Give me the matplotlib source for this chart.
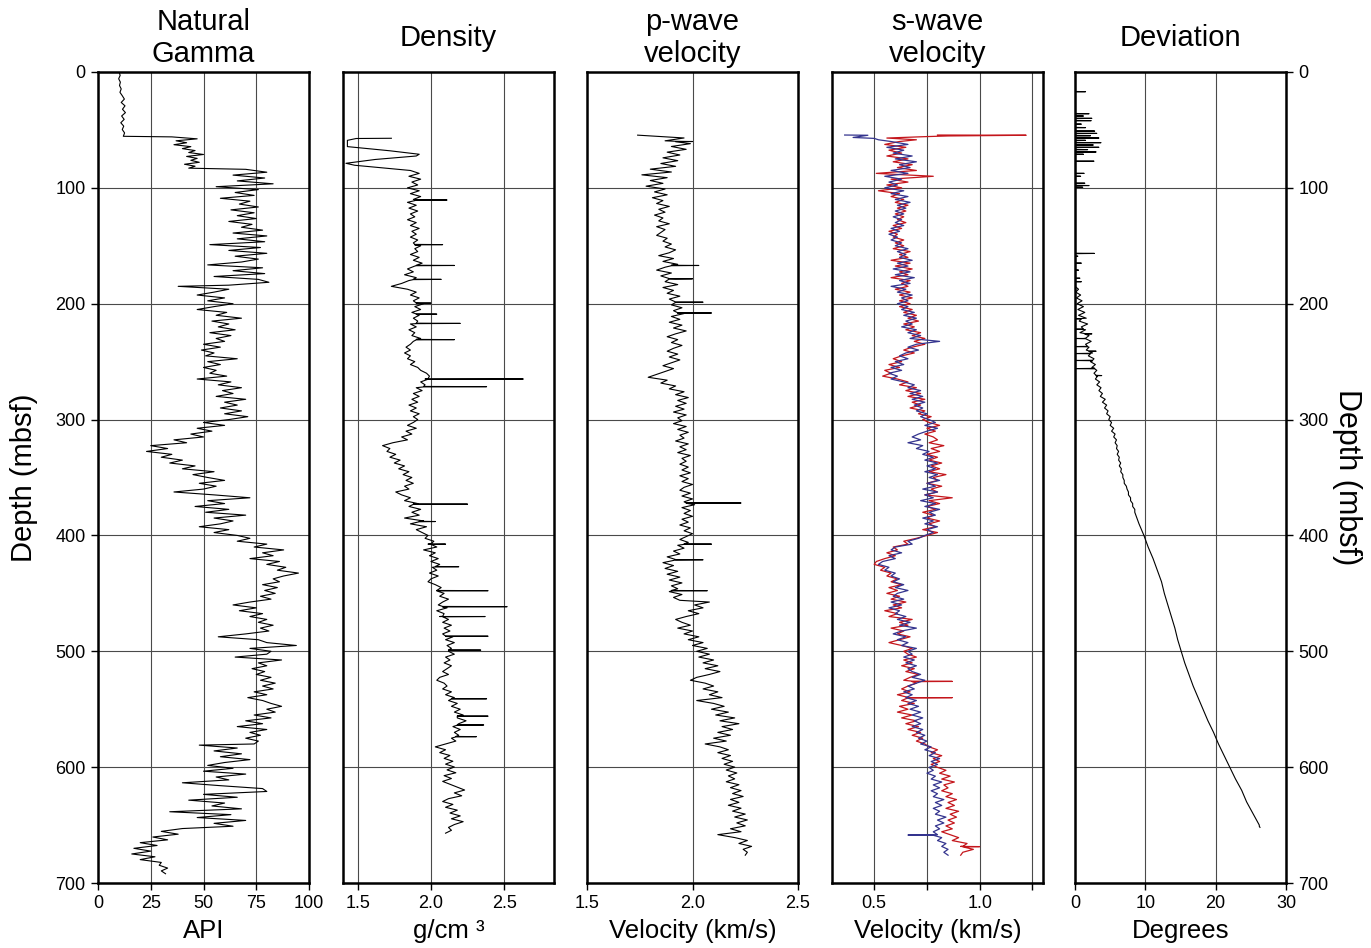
import numpy as np
import matplotlib
matplotlib.use("Agg")
import matplotlib.pyplot as plt

plt.rcParams['font.family'] = ['Liberation Sans', 'DejaVu Sans']

# ---------------- DATA ----------------
# Each log: list of segments (top depth, bottom depth, values sampled evenly)
# Natural gamma (API)
gamma_segments = [
    (0, 55.5, [10, 10.5, 9.8, 10.6, 10.2, 11, 10.4, 11.5, 12.5, 11, 12.8, 11.6, 13, 11.2, 12.4, 10.8, 12.2, 11.5, 12.6, 12]),
    (56, 83, [35, 47, 37, 42, 36, 44, 40, 46, 43, 50, 42, 47, 44, 48, 41, 46, 43]),
    (84, 184, [70, 80, 64, 79, 66, 83, 56, 76, 65, 74, 58, 72, 67, 76, 63, 74, 66, 75, 62, 73, 68, 78, 64, 80, 66, 79,
               53, 77, 62, 80, 65, 76, 68, 52, 78, 64, 79, 55, 76, 81, 62]),
    (185, 300, [38, 62, 55, 47, 60, 52, 64, 55, 47, 61, 56, 68, 54, 62, 57, 65, 53, 63, 56, 60, 50, 58, 49, 55, 51, 66,
                52, 58, 50, 56, 53, 61, 47, 63, 57, 68, 59, 64, 56, 70, 60, 66, 58, 68, 60, 71, 62]),
    (302.5, 350, [50, 60, 47, 54, 44, 50, 36, 42, 25, 33, 23, 35, 30, 40, 34, 46, 40, 55, 45, 52]),
    (352.5, 400, [60, 48, 56, 50, 36, 55, 72, 52, 60, 46, 62, 51, 70, 55, 64, 58, 48, 62, 55, 66]),
    (402.5, 457.5, [72, 66, 80, 74, 88, 78, 83, 72, 86, 80, 89, 85, 95, 88, 83, 86, 78, 85, 79, 84, 77, 82, 72]),
    (460, 500, [64, 75, 67, 78, 72, 80, 76, 83, 77, 81, 70, 57, 76, 80, 94, 72, 82]),
    (502.5, 580, [80, 65, 87, 76, 80, 73, 79, 75, 82, 77, 84, 78, 83, 74, 80, 71, 78, 82, 87, 80, 84, 74, 82, 70, 78,
                  66, 80, 72, 77, 70, 76, 74]),
    (581, 651, [48, 66, 55, 68, 58, 72, 60, 52, 64, 50, 70, 56, 62, 40, 58, 78, 80, 50, 66, 43, 60, 54, 68, 34, 63, 47,
                70, 55, 64]),
    (653, 692, [40, 30, 38, 26, 33, 20, 28, 17, 25, 16, 27, 20, 30, 29, 33, 30, 32]),
]
gamma_spikes = []

# Density (g/cm3)
density_top_depths = [57.2, 57.4, 59, 64.4, 68, 71, 72.5, 75.5, 78.8, 80.5, 84.6]
density_top_values = [1.73, 1.49, 1.43, 1.43, 1.72, 1.92, 1.90, 1.62, 1.42, 1.48, 1.83]
density_segments = [
    (85, 185, [1.86, 1.92, 1.85, 1.93, 1.87, 1.91, 1.84, 1.92, 1.86, 1.93, 1.88, 1.84, 1.90, 1.85, 1.91, 1.86, 1.89,
               1.84, 1.90, 1.86, 1.92, 1.87, 1.90, 1.86, 1.91, 1.88, 1.93, 1.89, 1.91, 1.86, 1.92, 1.88, 1.94, 1.89,
               1.84, 1.88, 1.82, 1.90, 1.85, 1.80, 1.73]),
    (187.5, 300, [1.84, 1.90, 1.86, 1.92, 1.88, 1.95, 1.89, 1.93, 1.87, 1.92, 1.88, 1.91, 1.86, 1.90, 1.85, 1.89, 1.87,
                  1.93, 1.88, 1.86, 1.83, 1.86, 1.82, 1.86, 1.84, 1.89, 1.86, 1.91, 1.93, 1.97, 1.99, 1.96, 1.93, 1.96,
                  1.90, 1.94, 1.88, 1.92, 1.87, 1.91, 1.85, 1.90, 1.86, 1.92, 1.88, 1.91]),
    (302.5, 400, [1.88, 1.84, 1.90, 1.83, 1.87, 1.80, 1.84, 1.74, 1.67, 1.72, 1.70, 1.76, 1.72, 1.79, 1.75, 1.82, 1.78,
                  1.85, 1.81, 1.87, 1.83, 1.88, 1.82, 1.85, 1.76, 1.80, 1.86, 1.82, 1.91, 1.85, 1.93, 1.87, 1.92, 1.82,
                  1.95, 1.86, 1.97, 1.90, 1.94, 1.98]),
    (402.5, 450, [1.96, 2.02, 1.98, 2.04, 1.95, 2.03, 1.99, 2.05, 2.00, 2.06, 2.01, 2.04, 1.99, 2.05, 2.00, 1.98, 2.03,
                  2.07, 2.04, 2.09]),
    (452.5, 540, [2.06, 2.12, 2.08, 2.05, 2.11, 2.04, 2.09, 2.06, 2.12, 2.08, 2.14, 2.09, 2.13, 2.08, 2.15, 2.10, 2.16,
                  2.11, 2.14, 2.12, 2.16, 2.10, 2.13, 2.09, 2.14, 2.11, 2.08, 2.12, 2.06, 2.04, 2.09, 2.11, 2.08, 2.14,
                  2.10, 2.16]),
    (542.5, 580, [2.12, 2.18, 2.14, 2.20, 2.16, 2.22, 2.18, 2.24, 2.19, 2.15, 2.20, 2.16, 2.19, 2.14, 2.17, 2.10]),
    (582.5, 657, [2.03, 2.10, 2.06, 2.13, 2.09, 2.15, 2.10, 2.16, 2.11, 2.17, 2.09, 2.14, 2.08, 2.13, 2.18, 2.23, 2.16,
                  2.21, 2.12, 2.08, 2.15, 2.10, 2.18, 2.13, 2.20, 2.14, 2.22, 2.16, 2.12, 2.14, 2.10]),
]
# spikes: (depth, base value, peak value)
density_spikes = [(110.5, 1.90, 2.11), (149, 1.89, 2.08), (167, 1.90, 2.16), (179, 1.88, 2.07), (199.5, 1.90, 2.00),
                  (209, 1.90, 2.04), (217, 1.90, 2.20), (231, 1.90, 2.16), (265, 1.98, 2.63), (271.6, 1.95, 2.38),
                  (373, 1.88, 2.25), (388, 1.92, 2.03), (407.5, 2.00, 2.10), (427, 2.03, 2.19), (447.7, 2.04, 2.39),
                  (461.5, 2.08, 2.52), (470, 2.08, 2.37), (487, 2.10, 2.39), (499, 2.12, 2.34), (541, 2.14, 2.38),
                  (556, 2.18, 2.39), (563.6, 2.18, 2.36), (573.7, 2.17, 2.31)]

# p-wave velocity (km/s)
pwave_segments = [
    (54.5, 101, [1.74, 1.96, 1.87, 1.99, 1.90, 1.97, 1.88, 1.94, 1.86, 1.93, 1.85, 1.92, 1.80, 1.90, 1.76, 1.88, 1.80,
                 1.86, 1.78, 1.87]),
    (103.5, 198.5, [1.82, 1.88, 1.81, 1.86, 1.83, 1.89, 1.84, 1.87, 1.82, 1.86, 1.84, 1.89, 1.83, 1.87, 1.85, 1.83,
                    1.88, 1.86, 1.90, 1.87, 1.92, 1.89, 1.84, 1.91, 1.86, 1.93, 1.87, 1.83, 1.90, 1.85, 1.92, 1.87,
                    1.93, 1.86, 1.91, 1.88, 1.94, 1.89, 1.92]),
    (201, 298.5, [1.90, 1.95, 1.91, 1.96, 1.90, 1.94, 1.89, 1.95, 1.91, 1.97, 1.92, 1.88, 1.93, 1.90, 1.95, 1.91, 1.88,
                  1.93, 1.89, 1.94, 1.90, 1.86, 1.91, 1.87, 1.83, 1.79, 1.88, 1.85, 1.92, 1.89, 1.96, 1.92, 1.98, 1.93,
                  1.97, 1.92, 1.96, 1.91, 1.97, 1.93]),
    (301, 398.5, [1.95, 1.91, 1.97, 1.93, 1.98, 1.94, 1.96, 1.92, 1.98, 1.94, 1.97, 1.93, 1.99, 1.95, 1.97, 1.94, 1.98,
                  1.95, 1.99, 1.94, 1.98, 1.95, 2.00, 1.96, 1.94, 1.99, 1.95, 2.00, 1.96, 2.01, 1.95, 1.99, 1.96, 2.00,
                  1.95, 1.98, 1.94, 1.99, 1.96, 2.00]),
    (401, 456, [1.97, 1.94, 1.98, 1.93, 1.96, 1.91, 1.94, 1.88, 1.92, 1.86, 1.91, 1.87, 1.93, 1.88, 1.94, 1.89, 1.95,
                1.90, 1.93, 1.89, 1.95, 1.91, 1.94]),
    (457.5, 500, [2.08, 2.01, 2.05, 1.98, 2.03, 1.97, 1.92, 1.95, 1.99, 1.93, 2.00, 1.96, 2.03, 1.98, 2.05, 2.00, 2.07,
                  2.02]),
    (502.5, 540, [2.08, 2.03, 2.10, 2.05, 2.12, 2.06, 2.13, 2.08, 2.02, 1.99, 2.06, 2.10, 2.05, 2.12, 2.08, 2.14]),
    (542.5, 600, [2.02, 2.10, 2.15, 2.09, 2.17, 2.11, 2.20, 2.13, 2.22, 2.14, 2.19, 2.12, 2.18, 2.10, 2.16, 2.06, 2.13,
                  2.17, 2.12, 2.18, 2.14, 2.19, 2.15, 2.20]),
    (602.5, 676, [2.16, 2.21, 2.17, 2.20, 2.16, 2.22, 2.18, 2.23, 2.19, 2.24, 2.18, 2.22, 2.17, 2.23, 2.19, 2.25, 2.20,
                  2.26, 2.21, 2.25, 2.18, 2.23, 2.12, 2.20, 2.26, 2.22, 2.28, 2.24, 2.26, 2.25]),
]
pwave_spikes = [(60, 1.92, 2.00), (167, 1.90, 2.03), (178.5, 1.89, 2.00), (198.7, 1.92, 2.05), (208, 1.93, 2.09),
                (372, 1.97, 2.23), (407.5, 1.96, 2.09), (421, 1.92, 2.05), (447.7, 1.90, 2.07)]

# s-wave velocity (km/s), two receivers
swave_blue_top_depths = [54.4, 54.6, 56.5, 57.3, 58.5]
swave_blue_top_values = [0.36, 0.47, 0.40, 0.50, 0.52]
swave_blue_segments = [
    (60, 200, [0.58, 0.66, 0.56, 0.64, 0.59, 0.68, 0.60, 0.70, 0.62, 0.67, 0.58, 0.66, 0.55, 0.63, 0.57, 0.61, 0.55,
               0.64, 0.58, 0.66, 0.60, 0.67, 0.61, 0.65, 0.60, 0.64, 0.59, 0.63, 0.60, 0.64, 0.58, 0.62, 0.57, 0.61,
               0.58, 0.63, 0.60, 0.66, 0.61, 0.65, 0.62, 0.68, 0.61, 0.66, 0.59, 0.67, 0.60, 0.69, 0.62, 0.67, 0.58,
               0.65, 0.61, 0.68, 0.63, 0.66, 0.61]),
    (202.5, 300, [0.66, 0.63, 0.69, 0.64, 0.70, 0.65, 0.68, 0.63, 0.70, 0.66, 0.72, 0.67, 0.81, 0.70, 0.66, 0.71, 0.65,
                  0.62, 0.66, 0.60, 0.64, 0.58, 0.63, 0.57, 0.61, 0.58, 0.64, 0.69, 0.66, 0.72, 0.67, 0.73, 0.68, 0.74,
                  0.69, 0.73, 0.70, 0.75, 0.72, 0.76]),
    (302.5, 400, [0.79, 0.74, 0.80, 0.75, 0.71, 0.68, 0.72, 0.66, 0.73, 0.70, 0.76, 0.73, 0.78, 0.74, 0.80, 0.75, 0.79,
                  0.74, 0.80, 0.76, 0.81, 0.75, 0.79, 0.73, 0.80, 0.74, 0.78, 0.72, 0.79, 0.74, 0.81, 0.76, 0.79, 0.73,
                  0.78, 0.74, 0.80, 0.75, 0.78, 0.74]),
    (402.5, 500, [0.71, 0.66, 0.68, 0.60, 0.58, 0.63, 0.57, 0.60, 0.54, 0.52, 0.57, 0.55, 0.60, 0.58, 0.62, 0.59, 0.64,
                  0.60, 0.66, 0.61, 0.59, 0.64, 0.58, 0.63, 0.57, 0.62, 0.60, 0.65, 0.61, 0.67, 0.62, 0.70, 0.63, 0.59,
                  0.65, 0.61, 0.66, 0.63, 0.70, 0.66]),
    (502.5, 580, [0.68, 0.64, 0.69, 0.65, 0.70, 0.66, 0.68, 0.72, 0.68, 0.74, 0.70, 0.66, 0.69, 0.64, 0.68, 0.65, 0.70,
                  0.66, 0.71, 0.67, 0.72, 0.68, 0.73, 0.69, 0.72, 0.68, 0.73, 0.70, 0.74, 0.71, 0.75, 0.72]),
    (582.5, 676, [0.77, 0.74, 0.79, 0.76, 0.81, 0.77, 0.80, 0.76, 0.78, 0.75, 0.79, 0.77, 0.82, 0.78, 0.81, 0.77, 0.80,
                  0.78, 0.83, 0.79, 0.82, 0.78, 0.81, 0.79, 0.84, 0.80, 0.83, 0.79, 0.81, 0.78, 0.80, 0.82, 0.80, 0.84,
                  0.82, 0.85, 0.83, 0.85]),
]
swave_blue_spikes = [(658.6, 0.78, 0.66)]

swave_red_top_depths = [54.4, 54.6, 55.2, 55.8, 57.0, 58.5]
swave_red_top_values = [0.80, 1.22, 0.85, 0.74, 0.56, 0.70]
swave_red_segments = [
    (60, 200, [0.62, 0.55, 0.65, 0.57, 0.63, 0.56, 0.66, 0.59, 0.68, 0.61, 0.70, 0.51, 0.78, 0.58, 0.66, 0.56, 0.63,
               0.52, 0.62, 0.58, 0.64, 0.60, 0.66, 0.61, 0.65, 0.60, 0.64, 0.61, 0.65, 0.59, 0.63, 0.57, 0.61, 0.59,
               0.64, 0.60, 0.64, 0.59, 0.67, 0.62, 0.66, 0.58, 0.67, 0.60, 0.68, 0.62, 0.66, 0.58, 0.67, 0.63, 0.66,
               0.60, 0.67, 0.62, 0.68, 0.62, 0.67]),
    (202.5, 300, [0.62, 0.68, 0.64, 0.70, 0.66, 0.71, 0.64, 0.69, 0.65, 0.72, 0.68, 0.74, 0.69, 0.74, 0.68, 0.64, 0.69,
                  0.63, 0.59, 0.63, 0.57, 0.62, 0.55, 0.58, 0.54, 0.61, 0.66, 0.62, 0.70, 0.65, 0.72, 0.66, 0.74, 0.68,
                  0.72, 0.67, 0.74, 0.71, 0.77, 0.73]),
    (302.5, 400, [0.76, 0.81, 0.75, 0.79, 0.74, 0.78, 0.80, 0.76, 0.83, 0.77, 0.81, 0.75, 0.80, 0.76, 0.82, 0.77, 0.81,
                  0.76, 0.84, 0.78, 0.80, 0.75, 0.82, 0.77, 0.80, 0.74, 0.87, 0.76, 0.81, 0.75, 0.79, 0.73, 0.78, 0.75,
                  0.81, 0.76, 0.79, 0.73, 0.80, 0.75]),
    (402.5, 500, [0.70, 0.64, 0.66, 0.59, 0.61, 0.56, 0.60, 0.55, 0.51, 0.50, 0.55, 0.53, 0.58, 0.56, 0.61, 0.58, 0.63,
                  0.57, 0.61, 0.56, 0.62, 0.58, 0.65, 0.59, 0.63, 0.55, 0.61, 0.57, 0.68, 0.62, 0.66, 0.58, 0.64, 0.61,
                  0.67, 0.62, 0.57, 0.63, 0.68, 0.64]),
    (502.5, 580, [0.66, 0.70, 0.64, 0.68, 0.63, 0.69, 0.65, 0.71, 0.67, 0.64, 0.70, 0.66, 0.63, 0.67, 0.61, 0.66, 0.63,
                  0.69, 0.62, 0.66, 0.61, 0.68, 0.63, 0.70, 0.65, 0.71, 0.66, 0.72, 0.68, 0.73, 0.70, 0.74]),
    (582.5, 676, [0.76, 0.80, 0.77, 0.82, 0.78, 0.81, 0.77, 0.80, 0.84, 0.81, 0.86, 0.82, 0.88, 0.83, 0.85, 0.82, 0.87,
                  0.84, 0.89, 0.85, 0.88, 0.84, 0.90, 0.86, 0.89, 0.85, 0.88, 0.84, 0.87, 0.82, 0.86, 0.90, 0.87, 0.94,
                  0.91, 0.97, 0.92, 0.91]),
]
swave_red_spikes = [(526, 0.68, 0.87), (540, 0.66, 0.87), (668.6, 0.92, 1.00)]

# Deviation (degrees)
deviation_top_spikes = [(17, 1.5), (36, 2.0), (38, 1.2), (40, 2.4), (42, 2.3), (45, 0.9), (48, 1.5), (51, 2.8),
                        (53, 3.1), (55, 2.2), (57, 3.4), (59, 1.5), (61, 3.7), (63, 2.6), (65, 3.4), (67, 1.8),
                        (69, 3.0), (71, 1.2), (77, 2.7), (87.5, 1.3), (90, 0.8), (96, 1.4), (98, 2.0), (99.5, 1.1),
                        (156.6, 2.75), (159, 0.4), (165, 0.9), (171, 0.5), (178, 0.7), (181, 0.9)]
deviation_segments = [
    (185, 380, [0.0, 0.5, 0.1, 0.8, 0.2, 1.0, 0.3, 1.2, 0.4, 1.4, 0.5, 1.6, 0.6, 1.8, 0.9, 1.5, 0.7, 2.0, 1.2, 2.3,
                1.5, 2.0, 1.6, 2.5, 1.9, 2.7, 2.2, 2.9, 2.4, 3.1, 2.7, 3.2, 2.9, 3.5, 3.1, 3.7, 3.4, 3.9, 3.6, 4.3,
                3.9, 4.5, 4.2, 4.7, 4.5, 5.0, 4.8, 5.2, 5.0, 5.5, 5.2, 5.7, 5.5, 5.9, 5.7, 6.0, 5.9, 6.2, 6.0, 6.3,
                6.2, 6.5, 6.3, 6.6, 6.5, 6.8, 6.8, 7.0, 7.0, 7.3, 7.4, 7.6, 7.6, 7.9, 7.9, 8.2, 8.2, 8.5, 8.5]),
    (390, 650, [9.1, 9.8, 10.4, 11.1, 11.7, 12.3, 12.7, 13.2, 13.7, 14.2, 14.6, 15.1, 15.6, 16.2, 16.8, 17.5, 18.2,
                18.9, 19.7, 20.4, 21.2, 22.0, 22.8, 23.7, 24.4, 25.3, 26.2]),
    (651, 652, [26.2, 26.3]),
]
deviation_spikes = [(213, 0.9, 0.0), (222, 1.2, 0.0), (230, 1.5, 0.0), (237, 1.8, 0.0), (243, 2.2, 0.0),
                    (249, 2.5, 0.0), (256, 2.8, 0.0), (226, 1.4, 2.4), (241, 2.0, 3.0), (262, 3.0, 3.8)]


def build(segments, spikes=(), top=None):
    d_parts, v_parts = [], []
    if top is not None:
        d_parts.append(np.asarray(top[0], float))
        v_parts.append(np.asarray(top[1], float))
    for d0, d1, vals in segments:
        d_parts.append(np.linspace(d0, d1, len(vals)))
        v_parts.append(np.asarray(vals, float))
    for d, base, peak in spikes:
        d_parts.append(np.array([d - 0.2, d, d + 0.2]))
        v_parts.append(np.array([base, peak, base]))
    d = np.concatenate(d_parts)
    v = np.concatenate(v_parts)
    order = np.argsort(d, kind='stable')
    return d[order], v[order]


gam_d, gam_v = build(gamma_segments, gamma_spikes)
den_d, den_v = build(density_segments, density_spikes, (density_top_depths, density_top_values))
pw_d, pw_v = build(pwave_segments, pwave_spikes)
sb_d, sb_v = build(swave_blue_segments, swave_blue_spikes, (swave_blue_top_depths, swave_blue_top_values))
sr_d, sr_v = build(swave_red_segments, swave_red_spikes, (swave_red_top_depths, swave_red_top_values))
dev_top = [(d + o, v if o == 0 else 0.0) for d, v in deviation_top_spikes for o in (-0.2, 0.0, 0.2)]
dev_top_d = [0.0] + [p[0] for p in dev_top]
dev_top_v = [0.0] + [p[1] for p in dev_top]
dev_d, dev_v = build(deviation_segments, deviation_spikes, (dev_top_d, dev_top_v))

# ---------------- FIGURE ----------------
W, H = 1371, 948
fig = plt.figure(figsize=(W / 100, H / 100), dpi=100)

panel_lefts = [98, 343, 587, 832, 1075]
pw_px = 211
top_px, bot_px = 72, 883

titles = ["Natural\nGamma", "Density", "p-wave\nvelocity", "s-wave\nvelocity", "Deviation"]
xlabels = ["API", "g/cm \u00b3", "Velocity (km/s)", "Velocity (km/s)", "Degrees"]
xlims = [(0, 100), (1.4, 2.84), (1.5, 2.5), (0.3, 1.3), (0, 30)]
xticks = [[0, 25, 50, 75, 100], [1.5, 2.0, 2.5], [1.5, 2.0, 2.5], [0.5, 0.75, 1.0, 1.25], [0, 10, 20, 30]]
xticklabels = [["0", "25", "50", "75", "100"], ["1.5", "2.0", "2.5"], ["1.5", "2.0", "2.5"],
               ["0.5", "", "1.0", ""], ["0", "10", "20", "30"]]
depth_ticks = [0, 100, 200, 300, 400, 500, 600, 700]

grid_color = '#4a4a4a'
axes = []
for i, left in enumerate(panel_lefts):
    ax = fig.add_axes([left / W, 1 - bot_px / H, pw_px / W, (bot_px - top_px) / H])
    axes.append(ax)
    ax.set_xlim(*xlims[i])
    ax.set_ylim(700, 0)
    ax.set_xticks(xticks[i])
    ax.set_xticklabels(xticklabels[i])
    ax.set_yticks(depth_ticks)
    ax.set_axisbelow(True)
    ax.grid(True, color=grid_color, linewidth=0.8)
    for s in ax.spines.values():
        s.set_linewidth(1.8)
    ax.tick_params(axis='x', direction='out', length=5, width=1, labelsize=13, pad=4)
    ax.tick_params(axis='y', direction='out', length=5, width=1, labelsize=13, pad=4)
    ax.set_xlabel(xlabels[i], fontsize=18.5, labelpad=5)
    ax.text(0.5, 1 + (top_px - 38) / (bot_px - top_px), titles[i], transform=ax.transAxes,
            ha='center', va='center', fontsize=21, linespacing=1.2)
    if i == 0:
        ax.set_ylabel("Depth (mbsf)", fontsize=21, labelpad=12)
    elif i == 4:
        ax.yaxis.tick_right()
        ax.yaxis.set_label_position('right')
        ax.set_ylabel("Depth (mbsf)", fontsize=22, rotation=270, labelpad=24)
    else:
        ax.tick_params(axis='y', length=0, labelleft=False)

axes[0].plot(gam_v, gam_d, color='black', linewidth=0.8)
axes[1].plot(den_v, den_d, color='black', linewidth=0.8)
axes[2].plot(pw_v, pw_d, color='black', linewidth=0.8)
axes[3].plot(sr_v, sr_d, color='#c4161c', linewidth=0.9)
axes[3].plot(sb_v, sb_d, color='#34348e', linewidth=0.9)
axes[4].plot(dev_v, dev_d, color='black', linewidth=0.8)

fig.savefig("out.png", dpi=100)
